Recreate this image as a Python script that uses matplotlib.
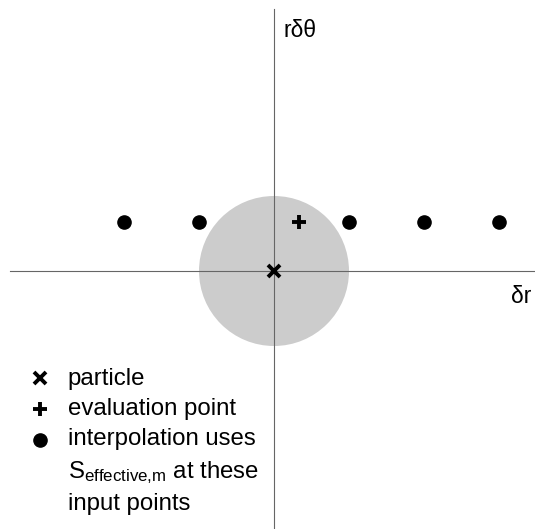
import numpy as np
import matplotlib.pyplot as plt
from matplotlib.patches import Circle

plt.rcParams["font.family"] = ["Liberation Sans", "DejaVu Sans"]
plt.rcParams["mathtext.default"] = "regular"

# input points used by the interpolation (units of the kernel radius)
input_r = [-2, -1, 1, 2, 3]
input_t = [0.65, 0.65, 0.65, 0.65, 0.65]
# evaluation point and particle position
eval_r, eval_t = 1 / 3, 0.65
particle_r, particle_t = 0.0, 0.0
kernel_radius = 1.0

legend_labels = ["particle", "evaluation point", "interpolation uses",
                 r"$S_{effective{,}m}$ at these", "input points"]

fig = plt.figure(figsize=(5.35, 5.29), dpi=100)
ax = fig.add_axes([0, 0, 1, 1])
ax.set_xlim(-274 / 75, 261 / 75)
ax.set_ylim(-258 / 75, 271 / 75)
ax.axis("off")

ax.add_patch(Circle((particle_r, particle_t), kernel_radius, color="#cccccc", lw=0, zorder=1))

# axis lines
ax.plot([-3.52, 3.6], [0, 0], color="#666666", lw=0.8, zorder=2)
ax.plot([0, 0], [-3.6, 3.49], color="#666666", lw=0.8, zorder=2)
ax.text(0.13, 3.12, "r\u03b4\u03b8", fontsize=16.5, ha="left", va="baseline")
ax.text(3.43, -0.43, "\u03b4r", fontsize=16.5, ha="right", va="baseline")

ax.plot(input_r, input_t, "o", color="black", ms=9.5, zorder=3)
ax.plot(eval_r, eval_t, "+", color="black", ms=10.5, mew=2.8, zorder=3)
ax.plot(particle_r, particle_t, "x", color="black", ms=9, mew=2.8, zorder=3)

# hand-made legend
mx, tx = -3.12, -2.75
ax.plot(mx, -1.43, "x", color="black", ms=8.5, mew=2.8)
ax.plot(mx, -1.84, "+", color="black", ms=10, mew=2.8)
ax.plot(mx, -2.25, "o", color="black", ms=9.5)
ys = [-1.52, -1.92, -2.32, -2.76, -3.19]
for y, s in zip(ys, legend_labels):
    ax.text(tx, y, s, fontsize=17.3, ha="left", va="baseline")

fig.savefig("out.png", dpi=100)
